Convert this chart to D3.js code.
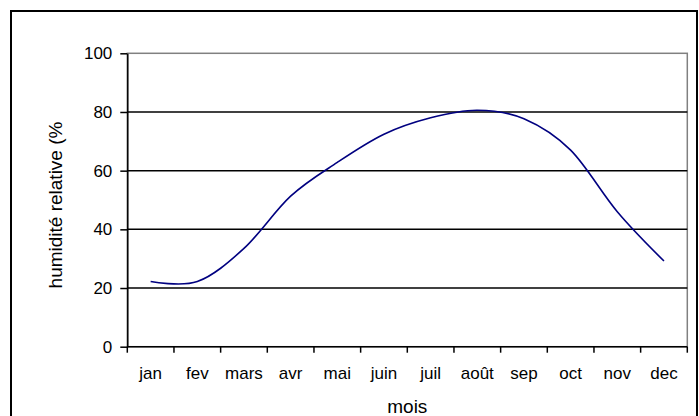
<!DOCTYPE html>
<html>
<head>
<meta charset="utf-8">
<script src="https://cdn.jsdelivr.net/npm/d3@7"></script>
<style>
  body { margin: 0; background: #fff; overflow: hidden; }
  text { font-family: "Liberation Sans", Arial, sans-serif; fill: #000; }
</style>
</head>
<body>
<div id="chart"></div>
<script>

// monthly relative humidity
var months = ["jan", "fev", "mars", "avr", "mai", "juin", "juil", "août", "sep", "oct", "nov", "dec"];
var humidity = [22.2, 22.2, 33.5, 51.3, 62.8, 72.4, 78.0, 80.6, 77.7, 67.0, 46.0, 29.2];
var yTicks = [0, 20, 40, 60, 80, 100];
var gridValues = [20, 40, 60, 80];

var width = 699, height = 416;
var plot = {left: 127.3, right: 687.3, top: 53.3, bottom: 346.7};

var svg = d3.select("#chart").append("svg")
  .attr("width", width)
  .attr("height", height)
  .style("display", "block");

// outer frame (its bottom edge falls below the picture)
svg.append("rect")
  .attr("x", 11).attr("y", 11)
  .attr("width", 686).attr("height", 420)
  .attr("fill", "none")
  .attr("stroke", "#000")
  .attr("stroke-width", 2);

var x = d3.scaleBand()
  .domain(months)
  .range([plot.left, plot.right]);

var y = d3.scaleLinear()
  .domain([0, 100])
  .range([plot.bottom, plot.top]);

// plot area border (grey)
svg.append("rect")
  .attr("x", plot.left).attr("y", plot.top)
  .attr("width", plot.right - plot.left)
  .attr("height", plot.bottom - plot.top)
  .attr("fill", "none")
  .attr("stroke", "#808080")
  .attr("stroke-width", 1.5);

// gridlines
svg.selectAll(".grid")
  .data(gridValues)
  .enter().append("line")
  .attr("class", "grid")
  .attr("x1", plot.left).attr("x2", plot.right)
  .attr("y1", function(d) { return y(d); })
  .attr("y2", function(d) { return y(d); })
  .attr("stroke", "#000")
  .attr("stroke-width", 1.5);

// y axis
var yAxis = svg.append("g")
  .attr("transform", "translate(" + plot.left + ",0)")
  .call(d3.axisLeft(y).tickValues(yTicks).tickSize(7).tickPadding(8).tickSizeOuter(0));
yAxis.select(".domain").attr("stroke", "#000").attr("stroke-width", 1.5);
yAxis.selectAll(".tick line").attr("stroke", "#000").attr("stroke-width", 1.5);
yAxis.selectAll(".tick text")
  .style("font-family", "'Liberation Sans', Arial, sans-serif")
  .style("font-size", "17px")
  .attr("fill", "#000");

// x axis: baseline, ticks between months, labels centred
var xAxis = svg.append("g");
xAxis.append("line")
  .attr("x1", plot.left).attr("x2", plot.right)
  .attr("y1", plot.bottom).attr("y2", plot.bottom)
  .attr("stroke", "#000").attr("stroke-width", 1.5);

var tickPos = months.map(function(m) { return x(m); }).concat([x.range()[1]]);
xAxis.selectAll(".xtick")
  .data(tickPos)
  .enter().append("line")
  .attr("class", "xtick")
  .attr("x1", function(d) { return d; })
  .attr("x2", function(d) { return d; })
  .attr("y1", plot.bottom).attr("y2", plot.bottom + 6)
  .attr("stroke", "#000").attr("stroke-width", 1.5);

xAxis.selectAll(".xlabel")
  .data(months)
  .enter().append("text")
  .attr("class", "xlabel")
  .attr("x", function(d) { return x(d) + x.bandwidth() / 2; })
  .attr("y", 378.5)
  .attr("text-anchor", "middle")
  .style("font-size", "17px")
  .text(function(d) { return d; });

// axis titles
svg.append("text")
  .attr("x", (plot.left + plot.right) / 2)
  .attr("y", 413)
  .attr("text-anchor", "middle")
  .style("font-size", "19px")
  .text("mois");

svg.append("text")
  .attr("transform", "translate(62," + ((plot.top + plot.bottom) / 2 + 5) + ") rotate(-90)")
  .attr("text-anchor", "middle")
  .style("font-size", "19px")
  .text("humidité relative (%");

// the humidity curve (smoothed, as in the source)
var line = d3.line()
  .x(function(d, i) { return x(months[i]) + x.bandwidth() / 2; })
  .y(function(d) { return y(d); })
  .curve(d3.curveCardinal.tension(0));

svg.append("path")
  .datum(humidity)
  .attr("d", line)
  .attr("fill", "none")
  .attr("stroke", "#000080")
  .attr("stroke-width", 1.6);

</script>
</body>
</html>
